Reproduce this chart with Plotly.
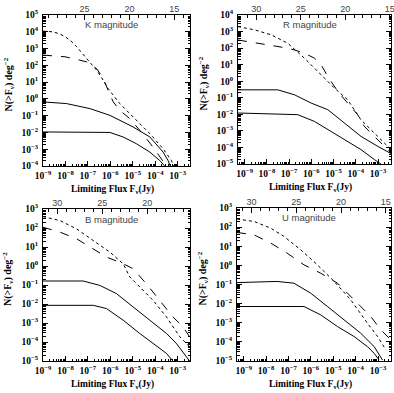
import plotly.graph_objects as go

# ---------------- data (log10 of flux [Jy] and log10 of N(>F) [deg^-2]) ----------------
K_dot_x = [-9.0, -8.6, -8.3, -8.02, -7.75, -7.50, -7.06, -6.61, -6.32, -6.10, -5.58, -4.99, -4.24, -3.65, -3.28, -3.18]
K_dot_y = [4.04, 4.00, 3.90, 3.71, 3.45, 3.11, 2.41, 1.71, 1.12, 0.62, -0.28, -1.08, -2.07, -2.97, -3.67, -4.0]
K_dash_x = [-9.0, -8.02, -7.50, -7.06, -6.61, -6.32, -6.10, -5.87, -5.58, -5.13, -4.69, -4.10, -3.73, -3.50]
K_dash_y = [2.61, 2.51, 2.35, 2.21, 1.81, 1.22, 0.52, -0.18, -0.68, -1.18, -1.87, -2.87, -3.57, -4.0]
K_s1_x = [-9.0, -7.95, -6.91, -6.02, -4.99, -4.24, -3.65, -3.43, -3.33]
K_s1_y = [-0.18, -0.28, -0.58, -0.98, -1.67, -2.27, -3.17, -3.67, -4.0]
K_s2_x = [-9.0, -6.5, -6.02, -5.43, -4.84, -4.24, -3.80, -3.58]
K_s2_y = [-1.97, -1.97, -2.0, -2.27, -2.67, -3.17, -3.67, -4.0]

R_dot_x = [-9.3, -8.55, -7.80, -7.06, -6.31, -5.71, -5.26, -4.96, -4.37, -3.77, -3.17, -2.42]
R_dot_y = [3.30, 3.10, 2.80, 2.29, 1.39, 0.59, -0.02, -0.42, -1.12, -2.33, -3.13, -4.13]
R_dash_x = [-9.3, -8.55, -7.80, -7.21, -6.76, -6.31, -5.86, -5.56, -5.26, -4.81, -4.37, -3.92, -3.62, -3.32, -2.87, -2.42]
R_dash_y = [2.49, 2.33, 2.19, 2.03, 1.89, 1.69, 1.39, 0.99, 0.28, -0.62, -1.32, -2.02, -2.73, -3.13, -3.73, -4.33]
R_s1_x = [-9.3, -7.51, -6.76, -6.01, -5.26, -4.52, -3.77, -3.02, -2.42]
R_s1_y = [-0.52, -0.52, -0.82, -1.32, -1.72, -2.53, -3.33, -3.93, -4.37]
R_s2_x = [-9.3, -6.61, -5.86, -5.26, -4.52, -3.77, -3.17, -2.87]
R_s2_y = [-1.92, -2.02, -2.43, -2.93, -3.53, -4.13, -4.73, -5.0]

B_dot_x = [-9.0, -8.24, -7.50, -6.76, -6.02, -5.43, -5.13, -4.69, -4.10, -3.50, -2.91, -2.47]
B_dot_y = [2.60, 2.39, 1.95, 1.34, 0.73, 0.12, -0.58, -1.10, -1.80, -2.68, -3.72, -4.25]
B_dash_x = [-9.0, -8.24, -7.50, -6.91, -6.17, -5.43, -4.99, -4.40, -3.80, -3.21, -2.76, -2.47]
B_dash_y = [2.04, 1.78, 1.43, 0.99, 0.47, 0.12, -0.14, -0.93, -1.80, -2.68, -3.20, -3.72]
B_s1_x = [-9.0, -7.21, -6.47, -5.73, -4.99, -4.24, -3.50, -3.06, -2.61, -2.47]
B_s1_y = [-0.79, -0.79, -1.02, -1.45, -2.15, -2.85, -3.55, -4.07, -4.77, -5.0]
B_s2_x = [-9.0, -6.76, -6.17, -5.43, -4.69, -4.10, -3.50, -3.21]
B_s2_y = [-2.07, -2.07, -2.24, -2.85, -3.55, -4.07, -4.60, -5.0]

U_dot_x = [-9.3, -8.55, -7.80, -7.21, -6.46, -5.71, -4.96, -4.22, -3.47, -3.02, -2.65]
U_dot_y = [2.42, 2.30, 1.95, 1.52, 0.82, 0.03, -0.84, -1.80, -3.03, -3.72, -4.42]
U_dash_x = [-9.3, -8.55, -7.80, -7.06, -6.31, -5.56, -4.81, -4.07, -3.32, -2.87, -2.42]
U_dash_y = [1.72, 1.60, 1.17, 0.64, 0.03, -0.41, -0.93, -1.80, -2.68, -3.38, -3.90]
U_s1_x = [-9.3, -7.51, -6.76, -6.01, -5.26, -4.52, -3.77, -3.17, -2.80]
U_s1_y = [-0.90, -0.84, -0.93, -1.45, -2.15, -2.85, -3.55, -4.25, -4.95]
U_s2_x = [-9.3, -6.31, -5.56, -4.81, -4.07, -3.47, -3.17, -2.95]
U_s2_y = [-2.15, -2.15, -2.59, -3.20, -3.72, -4.25, -4.60, -4.95]

bands = ["K", "R", "B", "U"]
band_labels = ["K magnitude", "R magnitude", "B magnitude", "U magnitude"]
zero_point_log = [2.85, 3.52, 3.64, 3.35]   # log10 of zero-magnitude flux (Jy)
mag_ticks = [15, 20, 25, 30]
x_tick_exps = [-9, -8, -7, -6, -5, -4, -3]
y_title = "N(>F<sub>ν</sub>) deg<sup>−2</sup>"
x_title = "Limiting Flux F<sub>ν</sub>(Jy)"

curves = {
    "K": [(K_dot_x, K_dot_y, "dot"), (K_dash_x, K_dash_y, "dash"), (K_s1_x, K_s1_y, "solid"), (K_s2_x, K_s2_y, "solid")],
    "R": [(R_dot_x, R_dot_y, "dot"), (R_dash_x, R_dash_y, "dash"), (R_s1_x, R_s1_y, "solid"), (R_s2_x, R_s2_y, "solid")],
    "B": [(B_dot_x, B_dot_y, "dot"), (B_dash_x, B_dash_y, "dash"), (B_s1_x, B_s1_y, "solid"), (B_s2_x, B_s2_y, "solid")],
    "U": [(U_dot_x, U_dot_y, "dot"), (U_dash_x, U_dash_y, "dash"), (U_s1_x, U_s1_y, "solid"), (U_s2_x, U_s2_y, "solid")],
}

# ---------------- layout geometry (pixels) ----------------
W, H = 394, 393
geom = {
    "K": dict(px=(43, 190), py=(15, 166), xr=(-9.0, -2.45), yr=(-4, 5)),
    "R": dict(px=(238, 391), py=(15, 164), xr=(-9.3, -2.42), yr=(-5, 4)),
    "B": dict(px=(43, 190), py=(209, 361), xr=(-9.0, -2.45), yr=(-5, 3)),
    "U": dict(px=(237, 391), py=(208, 361), xr=(-9.3, -2.42), yr=(-5, 3)),
}

def fx(p):
    return p / W

def fy(p):
    return 1 - p / H

fig = go.Figure()
serif = dict(family="Liberation Serif", size=9.5, color="black", weight="bold")
sans = dict(family="Liberation Sans", size=9, color="#444")

layout = dict(template="none", width=W, height=H, margin=dict(l=0, r=0, t=0, b=0, autoexpand=False),
              paper_bgcolor="white", plot_bgcolor="white", showlegend=False)
annotations = []

for i, b in enumerate(bands):
    g = geom[b]
    n = i + 1
    xs = "" if n == 1 else str(n)
    xa, ya = "xaxis" + xs, "yaxis" + xs
    top = "xaxis" + str(n + 4)
    for cx, cy, dash in curves[b]:
        fig.add_trace(go.Scatter(x=[10 ** v for v in cx], y=[10 ** v for v in cy],
                                 mode="lines", line=dict(color="black", width=1, dash=dash),
                                 xaxis="x" + xs, yaxis="y" + xs, hoverinfo="skip"))
    xdom = [fx(g["px"][0]), fx(g["px"][1])]
    ydom = [fy(g["py"][1]), fy(g["py"][0])]
    lo, hi = g["yr"]
    yexps = list(range(lo, hi + 1))
    yminor = [k * 10 ** e for e in range(lo, hi) for k in range(2, 10)]
    xminor = [k * 10 ** e for e in range(-10, -2) for k in range(2, 10)]
    layout[xa] = dict(type="log", domain=xdom, range=list(g["xr"]), autorange=False, automargin=False,
                      anchor="y" + xs,
                      tickmode="array", tickvals=[10 ** e for e in x_tick_exps],
                      ticktext=["10<sup>−%d</sup>" % -e for e in x_tick_exps],
                      ticks="inside", ticklen=5, tickwidth=1, tickcolor="black",
                      minor=dict(tickmode="array", tickvals=xminor, ticks="inside", ticklen=2.5, tickcolor="black"),
                      showline=True, linecolor="black", linewidth=1, mirror=True,
                      showgrid=False, zeroline=False, tickfont=serif, ticklabelstandoff=1,
                      ticklabeloverflow="allow")
    layout[ya] = dict(type="log", domain=ydom, range=[lo, hi], autorange=False, automargin=False,
                      anchor="x" + xs,
                      tickmode="array", tickvals=[10 ** e for e in yexps],
                      ticktext=[("10<sup>%d</sup>" % e) if e >= 0 else ("10<sup>−%d</sup>" % -e) for e in yexps],
                      ticks="inside", ticklen=5, tickwidth=1, tickcolor="black",
                      minor=dict(tickmode="array", tickvals=yminor, ticks="inside", ticklen=2.5, tickcolor="black"),
                      showline=True, linecolor="black", linewidth=1, mirror="ticks",
                      showgrid=False, zeroline=False, tickfont=serif, ticklabelstandoff=2)
    a = zero_point_log[i]
    mleft = (a - g["xr"][0]) / 0.4
    mright = (a - g["xr"][1]) / 0.4
    layout[top] = dict(overlaying="x" + xs, anchor="y" + xs, side="top", type="linear",
                       domain=xdom, range=[mleft, mright], autorange=False, automargin=False,
                       tickmode="array", tickvals=mag_ticks,
                       ticktext=[str(m) for m in mag_ticks],
                       ticks="inside", ticklen=5, tickcolor="black",
                       minor=dict(dtick=1, tick0=0, ticks="inside", ticklen=2.5, tickcolor="black"),
                       showline=False, showgrid=False, zeroline=False, tickfont=sans,
                       ticklabelstandoff=0, ticklabeloverflow="allow")
    fig.add_trace(go.Scatter(x=[mleft], y=[10 ** lo], xaxis="x" + str(n + 4), yaxis="y" + xs,
                             mode="markers", marker=dict(opacity=0), hoverinfo="skip"))
    # band label inside panel
    annotations.append(dict(text=band_labels[i], xref="paper", yref="paper",
                            x=fx((g["px"][0] + g["px"][1]) / 2 - 5), y=fy(g["py"][0] + 10),
                            showarrow=False, font=dict(family="Liberation Sans", size=9.5, color="#444"),
                            xanchor="center", yanchor="middle"))
    # axis titles
    annotations.append(dict(text=x_title, xref="paper", yref="paper",
                            x=fx((g["px"][0] + g["px"][1]) / 2 - 4), y=fy(g["py"][1] + 23),
                            showarrow=False, font=dict(family="Liberation Serif", size=9.5, color="black", weight="bold"),
                            xanchor="center", yanchor="middle"))
    annotations.append(dict(text=y_title, xref="paper", yref="paper",
                            x=fx(g["px"][0] - 35), y=fy((g["py"][0] + g["py"][1]) / 2 - 6),
                            showarrow=False, textangle=-90,
                            font=dict(family="Liberation Serif", size=10, color="black", weight="bold"),
                            xanchor="center", yanchor="middle"))

layout["annotations"] = annotations
fig.update_layout(**layout)
fig.write_html("out.html", config={"displayModeBar": False},
               post_script="document.body.style.margin='0';document.body.style.padding='0';")
